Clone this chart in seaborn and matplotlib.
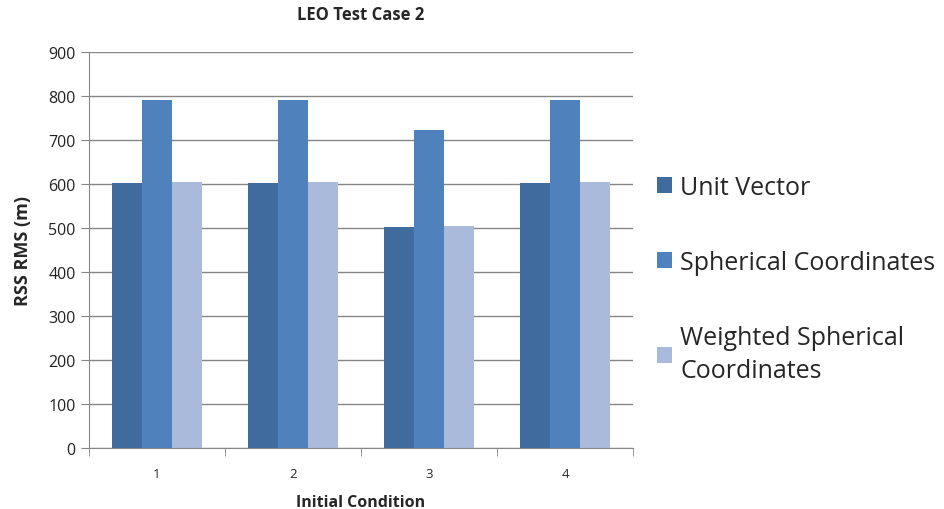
import matplotlib
matplotlib.use('Agg')
import matplotlib.pyplot as plt
import numpy as np
import pandas as pd
import seaborn as sns

sns.set_style("white")
plt.rcParams['font.family'] = ['Open Sans', 'DejaVu Sans']

conditions = ['1', '2', '3', '4']
unit_vector = [602, 602, 502, 602]
spherical = [791, 791, 723, 791]
weighted = [605, 605, 505, 605]
series_names = ['Unit Vector', 'Spherical Coordinates', 'Weighted Spherical\nCoordinates']
colors = ['#3F6B9E', '#4F81BD', '#AABADA']

rows = []
for name, vals in zip(series_names, [unit_vector, spherical, weighted]):
    for c, v in zip(conditions, vals):
        rows.append({'cond': c, 'series': name, 'value': v})
df = pd.DataFrame(rows)

fig = plt.figure(figsize=(9.45, 5.1), dpi=100)
ax = fig.add_axes([0.094, 0.12, 0.576, 0.776])
sns.barplot(data=df, x='cond', y='value', hue='series', palette=colors,
            width=0.66, saturation=1, linewidth=0, ax=ax, legend=True)

ax.set_ylim(0, 900)
ax.set_yticks(range(0, 901, 100))
ax.set_xlim(-0.5, 3.5)
ax.yaxis.grid(True, color='#868686', linewidth=1)
ax.set_axisbelow(True)
for s in ['top', 'right']:
    ax.spines[s].set_visible(False)
for s in ['left', 'bottom']:
    ax.spines[s].set_color('#868686')
ax.tick_params(axis='y', labelsize=11.5, length=6, color='#868686', left=True, labelcolor='#222222')
ax.set_xticks([0, 1, 2, 3])
ax.set_xticklabels(conditions)
ax.tick_params(axis='x', length=0, labelsize=9.5, pad=14)
ax.set_xticks([-0.5, 0.5, 1.5, 2.5, 3.5], minor=True)
ax.tick_params(axis='x', which='minor', length=6, color='#868686', bottom=True)

ax.set_xlabel('Initial Condition', fontsize=11.5, fontweight='bold', labelpad=10)
ax.set_ylabel('RSS RMS (m)', fontsize=13, fontweight='bold', labelpad=12)
ax.set_title('LEO Test Case 2', fontsize=12, fontweight='bold', pad=24)

handles, labels = ax.get_legend_handles_labels()
ax.get_legend().remove()
leg = fig.legend(handles, labels, loc='center left', bbox_to_anchor=(0.671, 0.451),
                 frameon=False, fontsize=18, handlelength=0.6, handleheight=0.6,
                 handletextpad=0.35, labelspacing=2.0)
for t in leg.get_texts():
    t.set_linespacing(1.45)

fig.savefig('out.png', dpi=100)
